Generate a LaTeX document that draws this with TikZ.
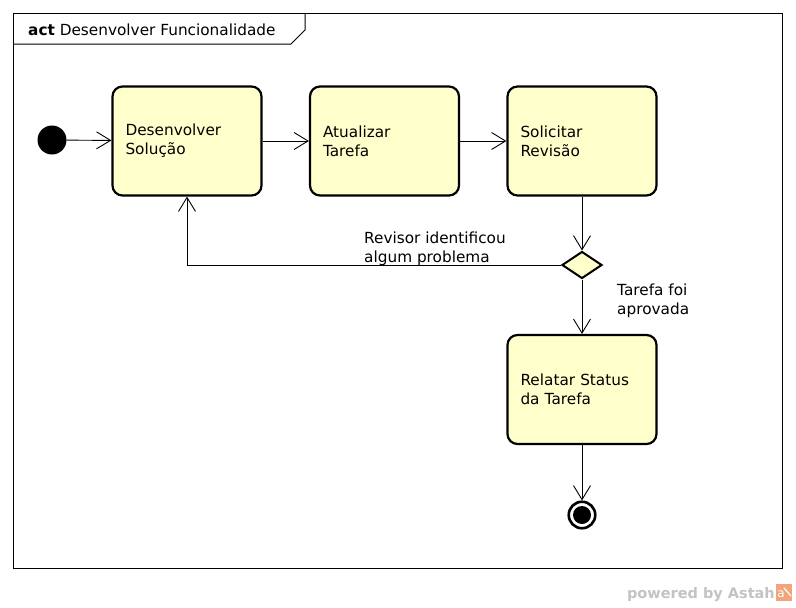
\documentclass[tikz,border=0pt]{standalone}
\usepackage{fontspec}
\setmainfont{DejaVu Sans}
\usetikzlibrary{arrows.meta,positioning,shapes.geometric}

\definecolor{actfill}{RGB}{255,255,204}
\definecolor{astahgrey}{RGB}{195,195,195}
\definecolor{astahorange}{RGB}{240,165,125}

\tikzset{
    txt/.style={align=left, inner sep=0pt, font=\fontsize{15.3}{19}\selectfont},
    action/.style={draw, line width=2.2pt, rounded corners=10pt, fill=actfill,
        minimum width=149pt, minimum height=109pt, text width=123pt,
        inner xsep=13pt, inner ysep=0pt, align=left, font=\fontsize{15.3}{19}\selectfont},
    flow/.style={line width=0.9pt, -{Straight Barb[length=14pt,width=17pt]}},
}

\begin{document}
\begin{tikzpicture}[x=1pt, y=-1pt]
    \useasboundingbox (0,0) rectangle (796,608);

    % frame
    \draw[line width=1pt] (13,13) rectangle (782,568);
    \draw[line width=1pt] (13,44) -- (291,44) -- (305,30) -- (305,13);
    \node[txt, anchor=west] (title) at (28,30) {\textbf{act} Desenvolver Funcionalidade};

    % nodes
    \node[circle, fill, inner sep=0pt, minimum size=29pt] (init) at (52,140) {};
    \node[action] (dev) at (187,141) {Desenvolver\\Solução};
    \node[action] (upd) at (384.5,141) {Atualizar\\Tarefa};
    \node[action] (rev) at (582,141) {Solicitar\\Revisão};
    \node[diamond, draw, line width=2pt, fill=actfill, inner sep=0pt,
        minimum width=40pt, minimum height=27pt] (dec) at (582,265) {};
    \node[action] (rep) at (582,389.5) {Relatar Status\\da Tarefa};
    \node[circle, draw, line width=2.6pt, inner sep=0pt, minimum size=26.5pt] (fin) at (582,515) {};
    \node[circle, fill, inner sep=0pt, minimum size=18pt] at (fin) {};

    % flows
    \draw[flow] (init) -- (dev);
    \draw[flow] (dev) -- (upd);
    \draw[flow] (upd) -- (rev);
    \draw[flow] (rev) -- (dec);
    \draw[flow] (dec.west) -| (dev.south);
    \draw[flow] (dec) -- (rep);
    \draw[flow] (rep) -- (fin);

    \node[txt, anchor=south west] (lblno) at (364,265.5) {Revisor identificou\\algum problema};
    \node[txt, anchor=west] (lblyes) at (617,301) {Tarefa foi\\aprovada};

    % astah mark
    \node[anchor=east, inner sep=0pt, text=astahgrey, font=\fontsize{14.5}{17}\selectfont\bfseries] (powered) at (775,595) {powered by Astah};
    \fill[astahorange] (776,584) rectangle (792,601);
    \node[inner sep=0pt, text=white, font=\fontsize{12}{12}\selectfont] (logo) at (781,594) {a};
    \draw[white, line width=1.2pt] (784,588) -- (791,596);
\end{tikzpicture}
\end{document}
